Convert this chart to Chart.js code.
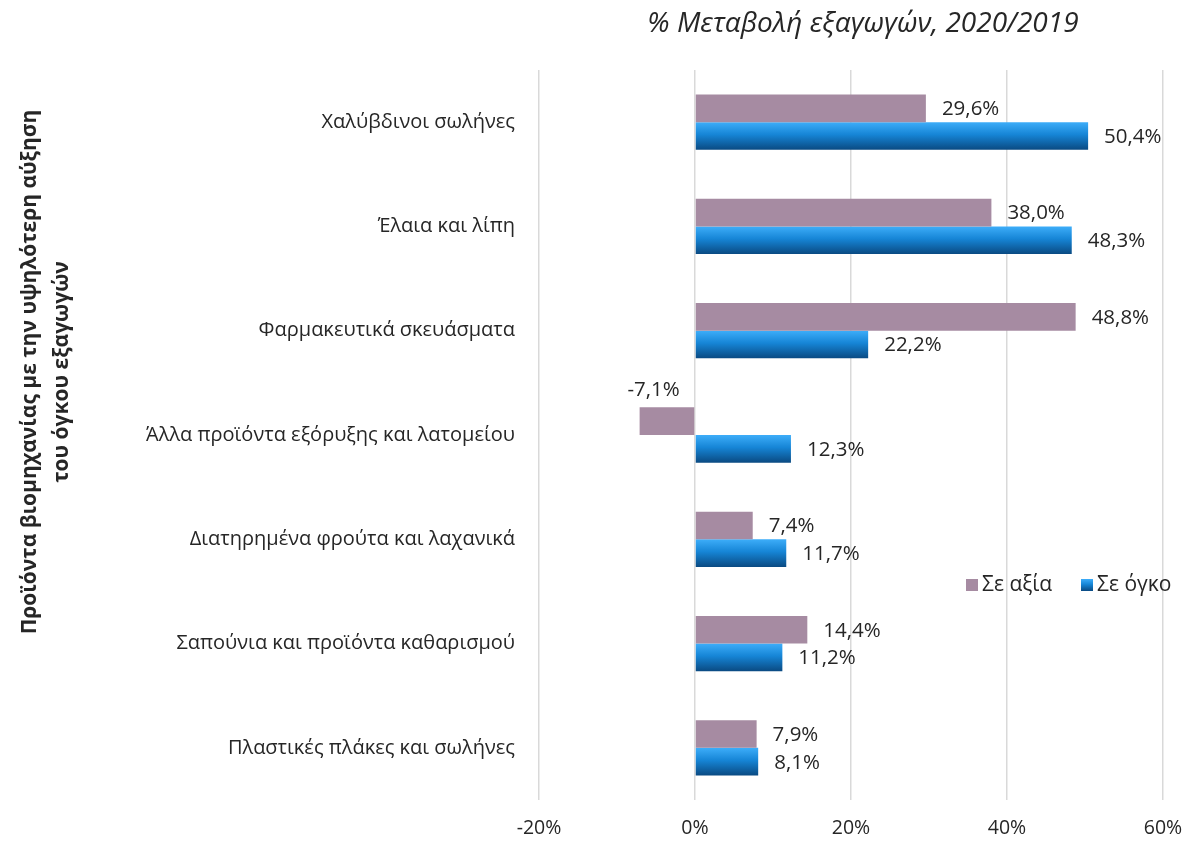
<!DOCTYPE html>
<html>
<head>
<meta charset="utf-8">
<script src="https://cdn.jsdelivr.net/npm/chart.js@4.4.1/dist/chart.umd.min.js"></script>
<style>
  html, body { margin: 0; padding: 0; background: #fff; }
</style>
</head>
<body>
<canvas id="exportChart" width="1187" height="842"></canvas>
<script>
// Product groups, top to bottom
const categories = [
    'Χαλύβδινοι σωλήνες',
    'Έλαια και λίπη',
    'Φαρμακευτικά σκευάσματα',
    'Άλλα προϊόντα εξόρυξης και λατομείου',
    'Διατηρημένα φρούτα και λαχανικά',
    'Σαπούνια και προϊόντα καθαρισμού',
    'Πλαστικές πλάκες και σωλήνες'
];
// % change 2020/2019
const valueChange = [29.6, 38.0, 48.8, -7.1, 7.4, 14.4, 7.9];
const volumeChange = [50.4, 48.3, 22.2, 12.3, 11.7, 11.2, 8.1];
const seriesNames = ['Σε αξία', 'Σε όγκο'];
const xTicks = [-20, 0, 20, 40, 60];
const chartTitle = '% Μεταβολή εξαγωγών, 2020/2019';
const axisTitle = ['Προϊόντα βιομηχανίας με την υψηλότερη αύξηση', 'του όγκου εξαγωγών'];

const FONT = '"Open Sans", sans-serif';
const TEXT = '#262626';
const PURPLE = '#a68ba2';
const CAT_PCT = 0.53;

const fmt = v => v.toFixed(1).replace('.', ',') + '%';

function blueGradient(ctx, top, bottom) {
    const g = ctx.createLinearGradient(0, top, 0, bottom);
    g.addColorStop(0, '#3dadf9');
    g.addColorStop(0.45, '#1685d6');
    g.addColorStop(1, '#0a4a82');
    return g;
}

// each blue bar gets its own top-to-bottom gradient
function volumeFill(c) {
    const chart = c.chart;
    const y = chart.scales && chart.scales.y;
    if (!y || !y.height || c.dataIndex === undefined) return '#1685d6';
    const band = y.height / categories.length;
    const top = y.getPixelForValue(c.dataIndex);
    return blueGradient(chart.ctx, top, top + band * CAT_PCT / 2);
}

const annotate = {
    id: 'annotate',
    afterDatasetsDraw(chart) {
        const ctx = chart.ctx;
        ctx.save();
        ctx.font = '20.5px ' + FONT;
        ctx.fillStyle = TEXT;
        ctx.textBaseline = 'middle';
        chart.data.datasets.forEach((ds, di) => {
            chart.getDatasetMeta(di).data.forEach((bar, i) => {
                const v = ds.data[i];
                if (v >= 0) {
                    ctx.textAlign = 'left';
                    ctx.fillText(fmt(v), bar.x + 16, bar.y + 1);
                } else {
                    ctx.textAlign = 'center';
                    ctx.fillText(fmt(v), bar.x + 14, bar.y - bar.height / 2 - 17);
                }
            });
        });
        ctx.restore();
    },
    afterDraw(chart) {
        const ctx = chart.ctx;
        ctx.save();
        ctx.fillStyle = TEXT;
        ctx.textBaseline = 'middle';

        // title
        ctx.textAlign = 'center';
        ctx.font = 'italic 28px ' + FONT;
        ctx.fillText(chartTitle, 863, 24);

        // rotated axis title
        ctx.font = 'bold 21px ' + FONT;
        ctx.translate(0, 372);
        ctx.rotate(-Math.PI / 2);
        ctx.fillText(axisTitle[0], 0, 30);
        ctx.fillText(axisTitle[1], 0, 62);
        ctx.setTransform(1, 0, 0, 1, 0, 0);

        // legend
        ctx.font = '21px ' + FONT;
        ctx.textAlign = 'left';
        const ly = 585;
        ctx.fillStyle = PURPLE;
        ctx.fillRect(966, ly - 6, 12, 12);
        ctx.fillStyle = blueGradient(ctx, ly - 6, ly + 6);
        ctx.fillRect(1081, ly - 6, 12, 12);
        ctx.fillStyle = TEXT;
        ctx.fillText(seriesNames[0], 982, ly);
        ctx.fillText(seriesNames[1], 1097, ly);
        ctx.restore();
    }
};

new Chart(document.getElementById('exportChart'), {
    type: 'bar',
    data: {
        labels: categories,
        datasets: [
            {
                label: seriesNames[0],
                data: valueChange,
                backgroundColor: PURPLE,
                barPercentage: 1,
                categoryPercentage: CAT_PCT
            },
            {
                label: seriesNames[1],
                data: volumeChange,
                backgroundColor: volumeFill,
                barPercentage: 1,
                categoryPercentage: CAT_PCT
            }
        ]
    },
    options: {
        indexAxis: 'y',
        responsive: false,
        animation: false,
        devicePixelRatio: 1,
        layout: { padding: { top: 70, right: 24, left: 0, bottom: 0 } },
        scales: {
            x: {
                min: xTicks[0],
                max: xTicks[xTicks.length - 1],
                afterBuildTicks: s => { s.ticks = xTicks.map(v => ({ value: v })); },
                afterFit: s => {
                    s.height = 42;
                    s.paddingLeft = 0;
                    s.paddingRight = 0;
                },
                ticks: {
                    color: TEXT,
                    font: { family: FONT, size: 19.5 },
                    padding: 17,
                    callback: v => v + '%'
                },
                grid: { color: '#d9d9d9', lineWidth: 1.5, drawTicks: false },
                border: { display: false }
            },
            y: {
                afterFit: s => { s.width = 539; },
                ticks: {
                    color: TEXT,
                    font: { family: FONT, size: 20 },
                    padding: 16
                },
                grid: { display: false },
                border: { display: false }
            }
        },
        plugins: {
            legend: { display: false },
            title: { display: false },
            tooltip: { enabled: false }
        }
    },
    plugins: [annotate]
});
</script>
</body>
</html>
